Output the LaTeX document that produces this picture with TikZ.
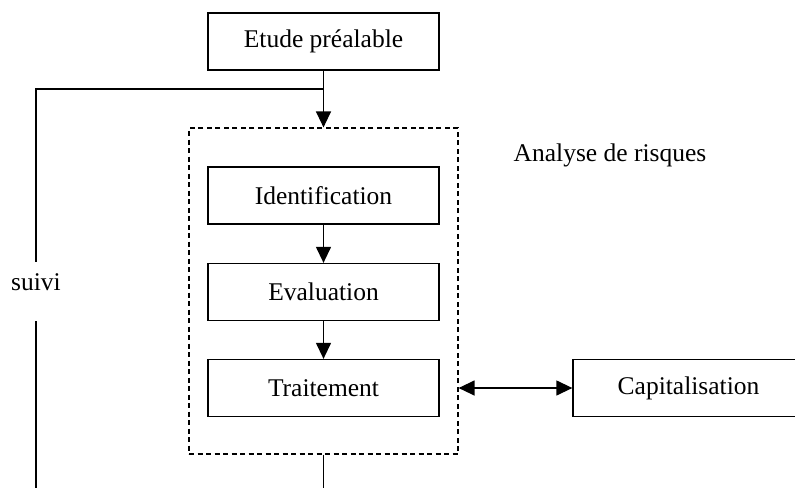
\documentclass[tikz,border=0pt]{standalone}
\usepackage{fontspec}
\setmainfont{Liberation Serif}
\usetikzlibrary{arrows.meta}
\begin{document}
\begin{tikzpicture}[x=1pt,y=-1pt,
  font=\fontsize{25.5}{30}\selectfont,
  etape/.style={draw,line width=1.3pt,minimum width=231pt,minimum height=57pt,inner sep=0pt},
  cadre/.style={draw,dashed,dash pattern=on 5pt off 3.5pt,line width=1.2pt,
    minimum width=269pt,minimum height=326pt,inner sep=0pt},
  pointe/.tip={Triangle[length=16pt,width=15pt]},
  fleche/.style={line width=1.3pt,-pointe},
  lien/.style={line width=1.3pt}]
  \useasboundingbox (0,0) rectangle (795,488);

  % les etapes
  \node[etape] (etude) at (323.5,41.5) {Etude préalable};
  \node[cadre] (analyse) at (323.5,291) {};
  \node (titre) at (610,155) {Analyse de risques};
  \node[etape] (ident) at (323.5,195.5) {Identification};
  \node[etape] (eval) at (323.5,292) {Evaluation};
  \node[etape] (trait) at (323.5,388) {Traitement};
  \node[etape] (capit) at (688.5,388) {Capitalisation};

  % boucle de suivi
  \node (suivi) at (36,282) {suivi};
  \coordinate (jonction) at (323.5,89);
  \coordinate (coin) at (36,89);
  \coordinate (suivihaut) at (36,262);
  \coordinate (suivibas) at (36,321);
  \coordinate (fin) at (36,488);
  \coordinate (sortie) at (323.5,488);

  \draw[fleche] (etude) -- (analyse.north);
  \draw[fleche] (ident) -- (eval);
  \draw[fleche] (eval) -- (trait);
  \draw[fleche,pointe-pointe] (analyse.east |- trait) -- (capit.west);
  \draw[lien] (jonction) -- (coin) -- (suivihaut);
  \draw[lien] (suivibas) -- (fin);
  \draw[lien] (analyse.south) -- (sortie);
\end{tikzpicture}
\end{document}
